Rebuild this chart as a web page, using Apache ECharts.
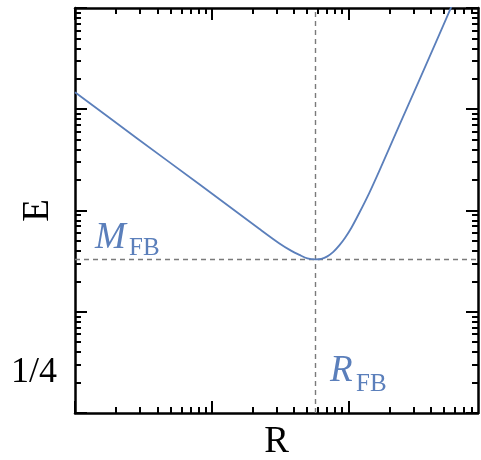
<!DOCTYPE html>
<html>
<head>
<meta charset="utf-8">
<script src="https://cdn.jsdelivr.net/npm/echarts@6/dist/echarts.min.js"></script>
<style>
html,body{margin:0;padding:0;background:#fff}
#chart{width:481px;height:460px}
</style>
</head>
<body>
<div id="chart"></div>
<script>
// curve (log-log)
var rValues = [0.1, 0.2836, 0.8177, 2.241, 3.136, 3.837, 4.388, 5.020, 5.742, 6.353, 7.026,
  7.772, 8.596, 9.508, 10.52, 12.03, 14.23, 16.84, 23.57, 32.97, 46.16, 56.46, 62.46];
var eValues = [147.1, 51.8, 18.04, 6.57, 4.73, 3.990, 3.644, 3.366, 3.290, 3.328, 3.523,
  3.901, 4.520, 5.420, 6.723, 9.45, 14.88, 24.5, 68.8, 191.8, 540.8, 1011, 1390];

var rFB = 5.74;
var mFB = 3.29;

var xMajor = [0.1, 1, 10];
var xMinor = [0.2, 0.3, 0.4, 0.5, 0.6, 0.7, 0.8, 0.9, 2, 3, 4, 5, 6, 7, 8, 9,
  20, 30, 40, 50, 60, 70, 80];
var yMajor = [0.1, 1, 10, 100, 1000];
var yMinor = [0.2, 0.3, 0.4, 0.5, 0.6, 0.7, 0.8, 0.9, 2, 3, 4, 5, 6, 7, 8, 9,
  20, 30, 40, 50, 60, 70, 80, 90, 200, 300, 400, 500, 600, 700, 800, 900];
var yLabelValues = [0.25];
var yLabelTexts = ['1/4'];

var xMin = 0.1, xMax = 89;
var yMin = 0.1, yMax = 1000;

var blue = '#5b7fbb';
var font = 'Liberation Serif';

function axis(pos, min, max, ticks, len, withLine) {
  return {
    type: 'log',
    position: pos,
    min: min,
    max: max,
    axisLine: { show: withLine, onZero: false, lineStyle: { color: '#000', width: 2.5 } },
    axisTick: { show: true, inside: true, length: len, customValues: ticks,
      lineStyle: { color: '#000', width: 2 } },
    axisLabel: { show: false },
    splitLine: { show: false },
    minorTick: { show: false }
  };
}

var xAxes = [
  axis('bottom', xMin, xMax, xMajor, 12, true),
  axis('bottom', xMin, xMax, xMinor, 6, false),
  axis('top', xMin, xMax, xMajor, 12, true),
  axis('top', xMin, xMax, xMinor, 6, false)
];
xAxes[0].name = 'R';
xAxes[0].nameLocation = 'middle';
xAxes[0].nameGap = 11;
xAxes[0].nameMoveOverlap = false;
xAxes[0].nameTextStyle = { fontFamily: font, fontSize: 37, color: '#000', verticalAlign: 'top' };

var yAxes = [
  axis('left', yMin, yMax, yMinor.length ? yMajor : yMajor, 12, true),
  axis('left', yMin, yMax, yMinor, 6, false),
  axis('right', yMin, yMax, yMajor, 12, true),
  axis('right', yMin, yMax, yMinor, 6, false)
];
yAxes[0].name = 'E';
yAxes[0].nameLocation = 'middle';
yAxes[0].nameRotate = 90;
yAxes[0].nameGap = 18;
yAxes[0].nameMoveOverlap = false;
yAxes[0].nameTextStyle = { fontFamily: font, fontSize: 37, color: '#000', verticalAlign: 'bottom' };
yAxes[0].axisLabel = {
  show: true,
  customValues: yLabelValues,
  margin: 18,
  fontFamily: font,
  fontSize: 36,
  color: '#000',
  formatter: function (v) {
    var i = yLabelValues.indexOf(v);
    return i >= 0 ? yLabelTexts[i] : yLabelTexts[0];
  }
};

var data = rValues.map(function (r, i) { return [r, eValues[i]]; });

var chart = echarts.init(document.getElementById('chart'));
chart.setOption({
  animation: false,
  backgroundColor: '#fff',
  grid: { left: 75, top: 8, width: 403, height: 405, containLabel: false, outerBoundsMode: 'none' },
  xAxis: xAxes,
  yAxis: yAxes,
  series: [{
    type: 'line',
    xAxisIndex: 0,
    yAxisIndex: 0,
    data: data,
    smooth: 0.3,
    showSymbol: false,
    symbol: 'none',
    lineStyle: { color: blue, width: 1.8 },
    z: 3,
    markLine: {
      silent: true,
      symbol: 'none',
      label: { show: false },
      lineStyle: { color: '#7a7a7a', width: 1.4, type: [5, 4] },
      z: 2,
      data: [{ xAxis: rFB }, { yAxis: mFB }]
    }
  }],
  graphic: [
    { type: 'text', x: 95, y: 238.5, style: { text: 'M', fill: blue,
      font: 'italic 37px "Liberation Serif"', verticalAlign: 'middle' } },
    { type: 'text', x: 129, y: 248.5, style: { text: 'FB', fill: blue,
      font: '25px "Liberation Serif"', verticalAlign: 'middle' } },
    { type: 'text', x: 330, y: 371, style: { text: 'R', fill: blue,
      font: 'italic 37px "Liberation Serif"', verticalAlign: 'middle' } },
    { type: 'text', x: 356, y: 384, style: { text: 'FB', fill: blue,
      font: '25px "Liberation Serif"', verticalAlign: 'middle' } }
  ]
});
</script>
</body>
</html>
